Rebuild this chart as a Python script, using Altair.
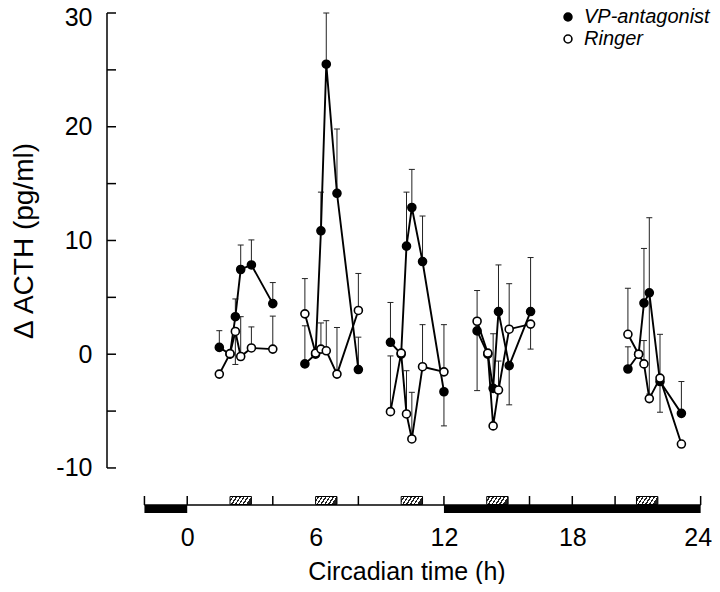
import altair as alt
import pandas as pd

# ---- data ----
group_id = [1]*6 + [2]*6 + [3]*6 + [4]*6 + [5]*6
time_h = [1.5, 2.0, 2.25, 2.5, 3.0, 4.0,
          5.5, 6.0, 6.25, 6.5, 7.0, 8.0,
          9.5, 10.0, 10.25, 10.5, 11.0, 12.0,
          13.55, 14.05, 14.3, 14.55, 15.05, 16.05,
          20.6, 21.1, 21.35, 21.6, 22.1, 23.1]

vp_values = [0.6, 0.0, 3.3, 7.45, 7.85, 4.45,
             -0.85, 0.0, 10.85, 25.5, 14.15, -1.35,
             1.05, 0.0, 9.5, 12.9, 8.15, -3.3,
             2.05, 0.0, -3.0, 3.75, -1.0, 3.75,
             -1.3, 0.0, 4.5, 5.4, -2.4, -5.2]
vp_err_hi = [2.07, None, 4.86, 9.6, 10.05, 6.3,
             2.5, None, 14.25, 30.0, 19.8, 1.5,
             4.55, None, 14.25, 16.25, 12.15, None,
             None, None, 1.8, 7.85, None, 8.5,
             0.65, None, 9.3, 12.0, None, -2.4]
vp_err_lo = [None, None, None, None, None, None,
             None, None, None, None, None, None,
             None, None, None, None, None, -6.3,
             -3.2, None, None, None, -4.45, None,
             None, None, None, -3.5, -5.1, None]

ringer_values = [-1.75, 0.05, 2.0, -0.2, 0.55, 0.45,
                 3.55, 0.1, 0.45, 0.3, -1.75, 3.85,
                 -5.05, 0.1, -5.25, -7.45, -1.1, -1.55,
                 2.9, 0.1, -6.3, -3.15, 2.2, 2.65,
                 1.75, 0.0, -0.85, -3.9, -2.1, -7.9]
ringer_err_hi = [None, None, None, 3.3, 2.4, 3.35,
                 6.65, None, 2.75, 2.95, 2.35, 7.1,
                 -0.15, None, -1.45, -3.35, 2.6, 2.6,
                 5.6, None, None, -0.6, 6.2, None,
                 5.8, None, 1.2, None, 1.75, None]
ringer_err_lo = [None, None, -0.9, None, None, None,
                 None, None, None, None, None, None,
                 None, None, None, None, None, None,
                 None, None, None, None, None, 0.45,
                 None, None, None, None, None, None]

series_names = ["VP-antagonist", "Ringer"]

y_tick_values = [-10, -5, 0, 5, 10, 15, 20, 25, 30]
y_label_values = [-10, 0, 10, 20, 30]
x_label_values = [0, 6, 12, 18, 24]
bar_tick_values = [-2, 0, 4, 8, 12, 16, 18, 20, 24]
dark_start = [-2, 12]
dark_end = [0, 24]
infusion_start = [2, 6, 10, 14, 21]
infusion_end = [3, 7, 11, 15, 22]

# ---- tables ----
rows = []
for name, vals, hi, lo in [(series_names[0], vp_values, vp_err_hi, vp_err_lo),
                           (series_names[1], ringer_values, ringer_err_hi, ringer_err_lo)]:
    for g, t, v, h, l in zip(group_id, time_h, vals, hi, lo):
        rows.append({"series": name, "key": f"{name}-{g}", "time": t, "value": v,
                     "hi": h, "lo": l})
df = pd.DataFrame(rows)
df_hi = df.dropna(subset=["hi"])
df_lo = df.dropna(subset=["lo"])

FONT = "Liberation Sans"
xscale = alt.Scale(domain=[-3.75, 24.25], nice=False, zero=False)
yscale = alt.Scale(domain=[-13.96, 30], nice=False, zero=False)
last_x = x_label_values[-1]
top_y = y_label_values[-1]
xaxis = alt.Axis(values=x_label_values, domain=False, ticks=False, grid=False,
                 labelFontSize=25, labelPadding=12, labelFlush=False, labelFont=FONT,
                 labelColor="black", labelExpr="'' + datum.value",
                 labelAlign={"condition": {"test": f"datum.value == {last_x}", "value": "right"},
                             "value": "center"},
                 labelOffset={"condition": {"test": f"datum.value == {last_x}", "value": 11},
                              "value": 0},
                 title="Circadian time (h)", titleFont=FONT,
                 titleFontSize=25, titleFontWeight="normal", titlePadding=9,
                 titleColor="black")
yaxis = alt.Axis(values=y_label_values, domain=False, ticks=False, grid=False,
                 labelFontSize=25, labelPadding=15, labelFlush=False, labelFont=FONT,
                 labelColor="black", labelExpr="'' + datum.value",
                 labelOffset={"condition": {"test": f"datum.value == {top_y}", "value": 4},
                              "value": 0},
                 title="Δ ACTH (pg/ml)", titleFont=FONT,
                 titleFontSize=28, titleFontWeight="normal", titleColor="black",
                 titleX=-75, titleY=227.5, titleBaseline="alphabetic")


def X(f):
    return alt.X(f, scale=xscale, axis=xaxis)


def Y(f):
    return alt.Y(f, scale=yscale, axis=yaxis)


base = alt.Chart(df)

# y axis line and inward ticks
yline = alt.Chart(pd.DataFrame({"y0": [y_tick_values[0]], "y1": [y_tick_values[-1]]})).mark_rule(
    color="black", strokeWidth=1.5).encode(x=alt.value(0), y=Y("y0:Q"), y2=alt.Y2("y1:Q"))
yticks = alt.Chart(pd.DataFrame({"tick": y_tick_values})).mark_rule(
    color="black", strokeWidth=1.5).encode(y=Y("tick:Q"), x=alt.value(0), x2=alt.value(9))

# bottom light/dark bar
bar_line = alt.Chart(pd.DataFrame({"s": [bar_tick_values[0]], "e": [bar_tick_values[-1]]})).mark_rule(
    color="black", strokeWidth=1.5).encode(x=X("s:Q"), x2="e:Q", y=alt.value(492))
dark = alt.Chart(pd.DataFrame({"s": dark_start, "e": dark_end})).mark_rect(
    color="black").encode(x=X("s:Q"), x2="e:Q", y=alt.value(492), y2=alt.value(500))
bar_ticks = alt.Chart(pd.DataFrame({"t": bar_tick_values})).mark_rule(
    color="black", strokeWidth=1.5).encode(x=X("t:Q"), y=alt.value(483), y2=alt.value(492))

stops = []
n = 6
for i in range(n):
    stops += [{"offset": i / n, "color": "white"},
              {"offset": (i + 0.6) / n, "color": "white"},
              {"offset": (i + 0.6) / n, "color": "#222"},
              {"offset": (i + 1) / n, "color": "#222"}]
hatch_fill = alt.LinearGradient(gradient="linear", x1=0, y1=0, x2=1, y2=0.25, stops=stops)
hatch = alt.Chart(pd.DataFrame({"s": infusion_start, "e": infusion_end})).mark_rect(
    fill=hatch_fill, stroke="black", strokeWidth=1).encode(
    x=X("s:Q"), x2="e:Q", y=alt.value(483.5), y2=alt.value(491.5))

# error bars
err_hi = alt.Chart(df_hi).mark_rule(color="#222", strokeWidth=1).encode(
    x=X("time:Q"), y=Y("value:Q"), y2="hi:Q")
cap_hi = alt.Chart(df_hi).mark_rule(color="#222", strokeWidth=1, xOffset=-3, x2Offset=3).encode(
    x=X("time:Q"), x2="time:Q", y=Y("hi:Q"))
err_lo = alt.Chart(df_lo).mark_rule(color="#222", strokeWidth=1).encode(
    x=X("time:Q"), y=Y("value:Q"), y2="lo:Q")
cap_lo = alt.Chart(df_lo).mark_rule(color="#222", strokeWidth=1, xOffset=-3, x2Offset=3).encode(
    x=X("time:Q"), x2="time:Q", y=Y("lo:Q"))

lines = base.mark_line(color="black", strokeWidth=1.9).encode(
    x=X("time:Q"), y=Y("value:Q"), detail="key:N")

points = base.mark_point(shape="circle", filled=True, size=64, stroke="black",
                         strokeWidth=1.6, opacity=1).encode(
    x=X("time:Q"), y=Y("value:Q"),
    fill=alt.Fill("series:N",
                  scale=alt.Scale(domain=series_names, range=["black", "white"]),
                  legend=alt.Legend(orient="none", legendX=451, legendY=-6, title=None,
                                    labelFont=FONT, labelFontSize=20, labelFontStyle="italic",
                                    labelColor="black", symbolType="circle", symbolSize=62,
                                    symbolStrokeColor="black", symbolStrokeWidth=1.6,
                                    labelOffset=6, rowPadding=2, padding=0)))

chart = alt.layer(yline, yticks, bar_line, dark, bar_ticks, hatch,
                  err_hi, cap_hi, err_lo, cap_lo, lines, points).properties(
    width=599, height=500, autosize="none", background="white",
    padding={"left": 99, "top": 5, "right": 6, "bottom": 71},
).configure_view(stroke=None).configure_axis(domain=False, ticks=False, grid=False)

chart.save("out.html", embed_options={"renderer": "svg", "actions": False})
